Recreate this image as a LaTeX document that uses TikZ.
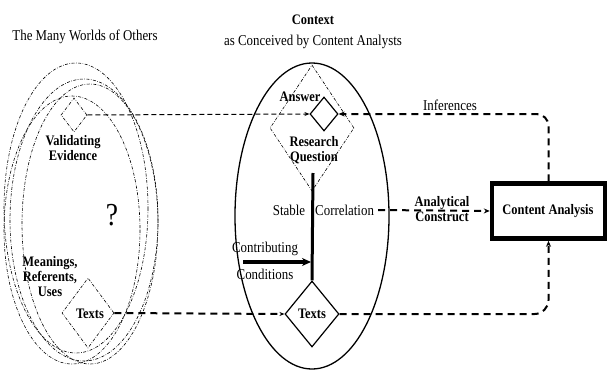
\documentclass[tikz,border=0pt]{standalone}
\usepackage{fontspec}
\setmainfont[FakeStretch=0.86]{Liberation Serif}
\usetikzlibrary{shapes.geometric,arrows.meta}
\begin{document}
\begin{tikzpicture}[x=1pt,y=-1pt,
  txt/.style={font=\fontsize{15}{15}\selectfont, inner sep=0pt, align=center},
  btxt/.style={font=\fontsize{14.5}{15}\selectfont\bfseries, inner sep=0pt, align=center},
  dd/.style={draw, dash pattern=on 3pt off 1.5pt on 0.6pt off 1.5pt, line width=0.6pt},
  dmd/.style={shape=diamond, inner sep=0pt},
  tip/.style={-{Stealth[length=5pt,width=4pt]}},
  thin dash/.style={dash pattern=on 5pt off 3pt, line width=1pt},
  thick dash/.style={dash pattern=on 7pt off 5pt, line width=2pt}
]
\useasboundingbox (0,0) rectangle (607,372);
% titles
\node[txt] (t1) at (85,37) {The Many Worlds of Others};
\node[btxt] (t2) at (313,20) {Context};
\node[txt] (t3) at (313,42) {as Conceived by Content Analysts};
% left dash-dotted worlds
\draw[dd] (76,208) ellipse [x radius=72, y radius=145];
\draw[dd] (84,220) ellipse [x radius=74, y radius=141];
\draw[dd] (90,224) ellipse [x radius=68, y radius=140];
\draw[dd] (72,230) ellipse [x radius=68, y radius=134];
\node[dmd, dd, minimum width=26pt, minimum height=34pt] (ev) at (74,115) {};
\node[btxt] (evl) at (73,148) {Validating\\Evidence};
\node[font=\fontsize{32}{32}\selectfont, inner sep=0pt] (q) at (112,215) {?};
\node[btxt] (mean) at (50,277) {Meanings,\\Referents,\\Uses};
\node[dmd, dd, minimum width=52pt, minimum height=70pt] (tl) at (88,313) {};
\node[btxt] (tll) at (90,314) {Texts};
% central context
\draw[line width=1.3pt] (312,216) ellipse [x radius=77, y radius=153];
\node[dmd, dd, minimum width=84pt, minimum height=126pt] (rq) at (312,128) {};
\node[dmd, draw, line width=1.2pt, minimum width=28pt, minimum height=34pt] (ans) at (324,114) {};
\node[btxt] (ansl) at (300,97) {Answer};
\node[btxt] (rql) at (314,150) {Research\\Question};
\node[dmd, draw, line width=1.2pt, minimum width=54pt, minimum height=66pt] (tr) at (312,314) {};
\node[btxt] (trl) at (312,314) {Texts};
\draw[line width=3pt] (313,173) -- (tr.north);
\node[txt] (stable) at (289,210) {Stable};
\node[txt, anchor=west] (corr) at (315,210) {Correlation};
\coordinate (cc) at (243,262);
\draw[line width=4pt, -{Stealth[length=9pt,width=8pt]}] (cc) -- (311,262);
\node[txt] (contr) at (265,249) {Contributing};
\node[txt] (cond) at (265,274) {Conditions};
% content analysis box
\node[draw, line width=4.5pt, minimum width=113pt, minimum height=55pt, inner sep=0pt] (ca) at (548.5,211) {};
\node[btxt] (cal) at (548,211) {Content Analysis};
% connectors
\draw[thin dash, tip] (ev.east) -- (ans.west);
\draw[thick dash, rounded corners=12pt, -{Stealth[length=6pt,width=5pt]}] (ca.north) |- (ans.east);
\node[txt] (inf) at (450,105) {Inferences};
\draw[thick dash, tip] (tl.east) -- (tr.west);
\draw[thick dash, rounded corners=14pt, -{Stealth[length=6pt,width=5pt]}] (tr.east) -| (ca.south);
\draw[thick dash, -{Stealth[length=6pt,width=5pt]}] (corr.east) ++(4pt,0) -- (ca.west);
\node[btxt] (anl) at (442,209) {Analytical\\Construct};
\end{tikzpicture}
\end{document}
